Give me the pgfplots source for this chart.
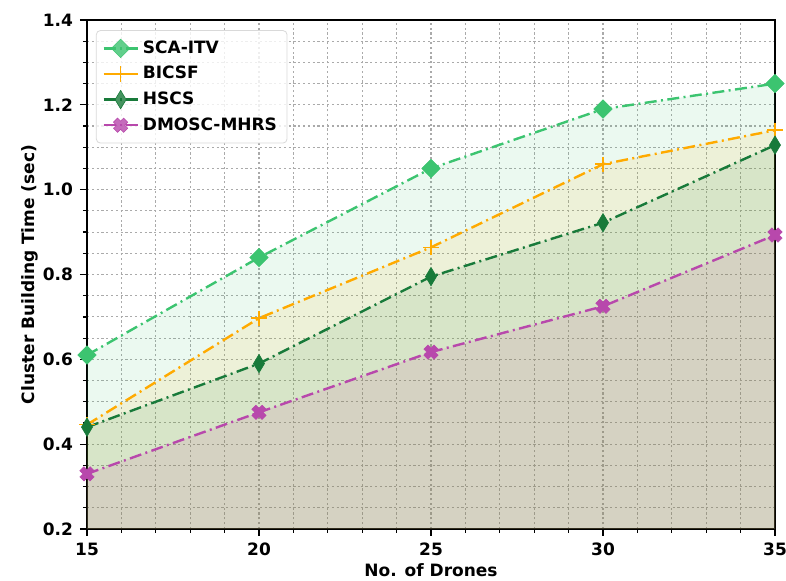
\documentclass[border=0pt]{standalone}
\usepackage{pgfplots}
\pgfplotsset{compat=1.18}
\usepackage{fontspec}
\setmainfont{DejaVu Sans}
\definecolor{csca}{RGB}{60,196,112}
\definecolor{cbic}{RGB}{255,170,0}
\definecolor{chs}{RGB}{24,122,58}
\definecolor{cdm}{RGB}{184,72,172}
\definecolor{cdmf}{RGB}{196,70,150}
\definecolor{gridc}{RGB}{170,170,170}
\pgfdeclareplotmark{Dsq}{%
  \pgfpathmoveto{\pgfqpoint{0pt}{\pgfplotmarksize}}%
  \pgfpathlineto{\pgfqpoint{\pgfplotmarksize}{0pt}}%
  \pgfpathlineto{\pgfqpoint{0pt}{-\pgfplotmarksize}}%
  \pgfpathlineto{\pgfqpoint{-\pgfplotmarksize}{0pt}}%
  \pgfpathclose\pgfusepathqfillstroke}
\pgfdeclareplotmark{Dthin}{%
  \pgfpathmoveto{\pgfqpoint{0pt}{\pgfplotmarksize}}%
  \pgfpathlineto{\pgfqpoint{0.6\pgfplotmarksize}{0pt}}%
  \pgfpathlineto{\pgfqpoint{0pt}{-\pgfplotmarksize}}%
  \pgfpathlineto{\pgfqpoint{-0.6\pgfplotmarksize}{0pt}}%
  \pgfpathclose\pgfusepathqfillstroke}
\pgfdeclareplotmark{Xf}{%
  \pgftransformrotate{45}%
  \pgfpathmoveto{\pgfqpoint{-\pgfplotmarksize}{-0.4\pgfplotmarksize}}%
  \pgfpathlineto{\pgfqpoint{-\pgfplotmarksize}{0.4\pgfplotmarksize}}%
  \pgfpathlineto{\pgfqpoint{-0.4\pgfplotmarksize}{0.4\pgfplotmarksize}}%
  \pgfpathlineto{\pgfqpoint{-0.4\pgfplotmarksize}{\pgfplotmarksize}}%
  \pgfpathlineto{\pgfqpoint{0.4\pgfplotmarksize}{\pgfplotmarksize}}%
  \pgfpathlineto{\pgfqpoint{0.4\pgfplotmarksize}{0.4\pgfplotmarksize}}%
  \pgfpathlineto{\pgfqpoint{\pgfplotmarksize}{0.4\pgfplotmarksize}}%
  \pgfpathlineto{\pgfqpoint{\pgfplotmarksize}{-0.4\pgfplotmarksize}}%
  \pgfpathlineto{\pgfqpoint{0.4\pgfplotmarksize}{-0.4\pgfplotmarksize}}%
  \pgfpathlineto{\pgfqpoint{0.4\pgfplotmarksize}{-\pgfplotmarksize}}%
  \pgfpathlineto{\pgfqpoint{-0.4\pgfplotmarksize}{-\pgfplotmarksize}}%
  \pgfpathlineto{\pgfqpoint{-0.4\pgfplotmarksize}{-0.4\pgfplotmarksize}}%
  \pgfpathclose\pgfusepathqfillstroke}
\begin{document}
\begin{tikzpicture}
\begin{axis}[
  scale only axis,
  width=344pt, height=254.5pt,
  xmin=15, xmax=35, ymin=0.2, ymax=1.4,
  xtick={15,20,25,30,35},
  ytick={0.2,0.4,0.6,0.8,1.0,1.2,1.4},
  yticklabel style={/pgf/number format/.cd,fixed,fixed zerofill,precision=1},
  minor x tick num=4,
  minor y tick num=3,
  tick align=outside,
  tick pos=left,
  major tick length=3.5pt,
  minor tick length=2pt,
  every tick/.style={black, line width=0.6pt},
  grid=both,
  major grid style={gridc, dash pattern=on 1.1pt off 1.3pt, line width=0.55pt},
  minor grid style={gridc, dash pattern=on 1.1pt off 1.3pt, line width=0.55pt},
  axis line style={black, line width=0.8pt},
  /pgf/number format/assume math mode=true,
  ticklabel style={font=\fontsize{8.5}{10}\selectfont\bfseries},
  label style={font=\fontsize{8.5}{10}\selectfont\bfseries},
  xlabel={No. of Drones},
  ylabel={Cluster Building Time (sec)},
  xlabel style={at={(axis description cs:0.5,0)}, anchor=center, yshift=-20.5pt},
  ylabel style={at={(axis description cs:0,0.5)}, anchor=center, rotate=0, yshift=28.5pt},
  legend style={at={(0.013,0.98)}, anchor=north west, draw=black!15, rounded corners=2pt,
    fill=white, fill opacity=0.8, text opacity=1, font=\fontsize{8.5}{10}\selectfont\bfseries,
    row sep=1pt, inner sep=3pt},
  legend cell align=left,
  every axis plot/.append style={line width=1.2pt, dash pattern=on 6pt off 2.2pt on 1pt off 2.2pt},
]
% fills
\addplot[draw=none, fill=csca, fill opacity=0.1, forget plot] coordinates {(15,0.61) (20,0.84) (25,1.05) (30,1.19) (35,1.25)} \closedcycle;
\addplot[draw=none, fill=cbic, fill opacity=0.1, forget plot] coordinates {(15,0.446) (20,0.697) (25,0.864) (30,1.06) (35,1.14)} \closedcycle;
\addplot[draw=none, fill=chs, fill opacity=0.1, forget plot] coordinates {(15,0.44) (20,0.59) (25,0.795) (30,0.922) (35,1.105)} \closedcycle;
\addplot[draw=none, fill=cdmf, fill opacity=0.12, forget plot] coordinates {(15,0.33) (20,0.475) (25,0.617) (30,0.725) (35,0.893)} \closedcycle;
% lines
\addplot[color=csca, mark=Dsq, mark size=4.6pt, mark options={solid, fill=csca, line width=0.3pt}]
  coordinates {(15,0.61) (20,0.84) (25,1.05) (30,1.19) (35,1.25)};
\addlegendentry{SCA-ITV}
\addplot[color=cbic, mark=+, mark size=3.8pt, mark options={solid, line width=0.8pt}]
  coordinates {(15,0.446) (20,0.697) (25,0.864) (30,1.06) (35,1.14)};
\addlegendentry{BICSF}
\addplot[color=chs, mark=Dthin, mark size=4.6pt, mark options={solid, fill=chs, line width=0.3pt}]
  coordinates {(15,0.44) (20,0.59) (25,0.795) (30,0.922) (35,1.105)};
\addlegendentry{HSCS}
\addplot[color=cdm, mark=Xf, mark size=3.6pt, mark options={solid, fill=cdm, line width=0.3pt}]
  coordinates {(15,0.33) (20,0.475) (25,0.617) (30,0.725) (35,0.893)};
\addlegendentry{DMOSC-MHRS}
\end{axis}
\pgfresetboundingbox
\useasboundingbox ([shift={(-43.5pt,-26pt)}]current axis.south west) rectangle ([shift={(5.5pt,10pt)}]current axis.north east);
\end{tikzpicture}
\end{document}
